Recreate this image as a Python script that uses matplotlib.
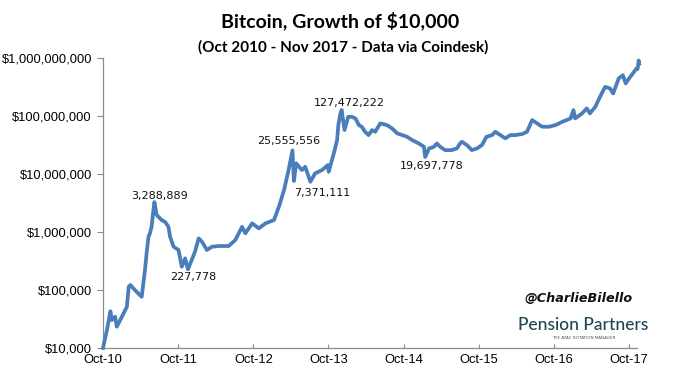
import numpy as np
import pandas as pd
import matplotlib
matplotlib.use("Agg")
import matplotlib.pyplot as plt
import matplotlib.dates as mdates
import matplotlib.ticker as mtk

# growth of $10,000 invested in bitcoin
dates = [
    "2010-10-01", "2010-10-20", "2010-11-06", "2010-11-13", "2010-11-29", "2010-12-07",
    "2011-01-01", "2011-01-25", "2011-02-03", "2011-02-11", "2011-03-05", "2011-03-29",
    "2011-04-07", "2011-04-23", "2011-05-01", "2011-05-10", "2011-05-17", "2011-05-25",
    "2011-06-03", "2011-06-08", "2011-06-19", "2011-07-13", "2011-07-29", "2011-08-15",
    "2011-08-23", "2011-09-09", "2011-10-03", "2011-10-19", "2011-11-04", "2011-11-18",
    "2011-12-06", "2011-12-22", "2012-01-09", "2012-01-25", "2012-02-18", "2012-03-13",
    "2012-04-15", "2012-06-03", "2012-07-05", "2012-08-07", "2012-08-23", "2012-09-25",
    "2012-10-27", "2012-11-29", "2013-01-09", "2013-02-02", "2013-02-27", "2013-03-21",
    "2013-04-09", "2013-04-16", "2013-04-27", "2013-05-25", "2013-06-10", "2013-07-05",
    "2013-07-28", "2013-08-31", "2013-09-28", "2013-10-02", "2013-10-27", "2013-11-12",
    "2013-11-18", "2013-11-28", "2013-12-04", "2013-12-18", "2014-01-05", "2014-01-23",
    "2014-02-09", "2014-02-26", "2014-03-12", "2014-03-28", "2014-04-14", "2014-05-01",
    "2014-05-16", "2014-06-10", "2014-07-12", "2014-08-06", "2014-08-31", "2014-09-24",
    "2014-10-18", "2014-11-12", "2014-12-14", "2015-01-08", "2015-01-14", "2015-02-02",
    "2015-02-26", "2015-03-12", "2015-03-28", "2015-04-21", "2015-05-23", "2015-06-17",
    "2015-07-03", "2015-07-12", "2015-08-05", "2015-08-29", "2015-09-23", "2015-10-17",
    "2015-11-08", "2015-12-05", "2015-12-21", "2016-01-15", "2016-02-08", "2016-03-03",
    "2016-03-27", "2016-04-29", "2016-05-23", "2016-06-17", "2016-07-11", "2016-08-05",
    "2016-09-07", "2016-10-09", "2016-11-11", "2016-12-21", "2017-01-04", "2017-01-12",
    "2017-02-15", "2017-03-10", "2017-03-25", "2017-04-20", "2017-05-13", "2017-06-07",
    "2017-07-01", "2017-07-16", "2017-08-12", "2017-09-01", "2017-09-15", "2017-10-01",
    "2017-10-20", "2017-11-06", "2017-11-12", "2017-11-17", "2017-11-20",
]
values = [
    10000, 20400, 43000, 30400, 34700, 23300,
    34700, 51500, 114000, 122000, 100000, 82000,
    76600, 221000, 434000, 830000, 951000, 1233000,
    2393000, 3288889, 1963000, 1611000, 1507000, 1233000,
    830000, 558000, 490000, 252000, 352000, 227778,
    329000, 457000, 778000, 681000, 490000, 558000,
    574000, 574000, 728000, 1233000, 951000, 1412000,
    1159000, 1412000, 1611000, 2730000, 5300000, 11720000,
    25555556, 7600000, 15280000, 11720000, 13370000, 7371111,
    10280000, 11720000, 14290000, 10970000, 22750000, 38550000,
    70000000, 110000000, 127472222, 57400000, 97200000, 97200000,
    91200000, 70000000, 65500000, 53600000, 47000000, 57400000,
    53600000, 74800000, 70000000, 61400000, 50400000, 47000000,
    44000000, 38550000, 33800000, 29600000, 19697778, 27700000,
    29600000, 33800000, 29600000, 25900000, 25900000, 27700000,
    33800000, 36100000, 31600000, 25900000, 27700000, 31600000,
    44000000, 47000000, 53600000, 47000000, 41300000, 47000000,
    47000000, 49000000, 53600000, 85300000, 74800000, 65500000,
    65500000, 70000000, 79800000, 91200000, 126800000, 91200000,
    111400000, 135800000, 111400000, 144500000, 215000000, 320000000,
    300000000, 246000000, 447000000, 509000000, 366000000, 447000000,
    545000000, 664000000, 650000000, 911111111, 800000000,
]

# labelled highs / lows
note_dates = ["2011-06-08", "2011-11-18", "2013-04-09", "2013-07-05",
              "2013-12-04", "2015-01-14", "2017-11-17"]
note_text = ["3,288,889", "227,778", "25,555,556", "7,371,111",
             "127,472,222", "19,697,778", "$911,111,111"]
note_offset = [(4, 4.5), (4, -5.5), (-3, 6.5), (8.5, -8), (5.5, 5), (5, -6.5), (-3.5, 8.5)]

ytick_vals = [1e4, 1e5, 1e6, 1e7, 1e8, 1e9]
xtick_years = list(range(2010, 2018))

blue = "#4a7ebb"
d = pd.to_datetime(dates)

fig = plt.figure(figsize=(6.8, 3.75), dpi=100)
ax = fig.add_axes([0.1515, 0.072, 0.785, 0.773])

ax.plot(d, values, color=blue, lw=2.7, solid_joinstyle="round", clip_on=False, zorder=3)
ax.set_yscale("log")
ax.set_ylim(1e4, 1e9)
ax.set_xlim(pd.Timestamp("2010-10-01"), pd.Timestamp("2017-11-08"))

ax.set_yticks(ytick_vals)
ax.yaxis.set_major_formatter(mtk.FuncFormatter(lambda v, p: "${:,.0f}".format(v)))
ax.yaxis.set_minor_locator(mtk.NullLocator())
ax.set_xticks([pd.Timestamp(f"{y}-10-01") for y in xtick_years])
ax.xaxis.set_major_formatter(mdates.DateFormatter("Oct-%y"))

for s in ["top", "right"]:
    ax.spines[s].set_visible(False)
for s in ["left", "bottom"]:
    ax.spines[s].set_color("#8c8c8c")
    ax.spines[s].set_linewidth(0.9)
ax.tick_params(axis="y", direction="out", length=4, color="#8c8c8c",
               labelsize=9.3, pad=4)
ax.tick_params(axis="x", direction="in", length=3, color="#8c8c8c",
               labelsize=9.3, pad=4)
for lab in ax.get_xticklabels() + ax.get_yticklabels():
    lab.set_fontfamily("Liberation Sans")

vals = dict(zip(dates, values))
for nd, nt, off in zip(note_dates, note_text, note_offset):
    ax.annotate(nt, (pd.Timestamp(nd), vals[nd]), xytext=off, textcoords="offset points",
                ha="center", va="center", fontsize=8, color="#111111")

fig.text(0.5, 0.945, "Bitcoin, Growth of $10,000", ha="center", va="center",
         fontsize=14, fontweight="bold", family="Lato")
fig.text(0.505, 0.873, "(Oct 2010 - Nov 2017 - Data via Coindesk)", ha="center",
         va="center", fontsize=11, fontweight="bold", family="Lato")

fig.text(0.85, 0.205, "@CharlieBilello", ha="center", va="center", fontsize=9.2,
         fontweight="bold", style="italic", color="#111111")
fig.text(0.858, 0.133, "Pension Partners", ha="center", va="center", fontsize=12.5,
         color="#1d4756", family="Lato", fontweight="medium")
fig.text(0.858, 0.098, "THE ATAC ROTATION MANAGER", ha="center", va="center",
         fontsize=3, color="#555555")

fig.savefig("out.png", dpi=100)
